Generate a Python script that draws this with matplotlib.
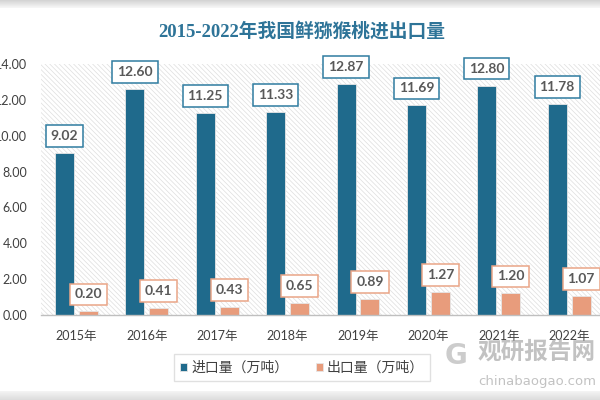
import matplotlib.pyplot as plt
import numpy as np
from matplotlib.patches import Rectangle

# data
years = ["2015年", "2016年", "2017年", "2018年", "2019年", "2020年", "2021年", "2022年"]
import_vals = [9.02, 12.60, 11.25, 11.33, 12.87, 11.69, 12.80, 11.78]
export_vals = [0.20, 0.41, 0.43, 0.65, 0.89, 1.27, 1.20, 1.07]

blue = "#1f6a8c"
orange = "#e89c7c"
num_font = ["Lato", "Noto Sans CJK SC"]
cjk_font = ["Noto Sans CJK SC", "DejaVu Sans"]

fig = plt.figure(figsize=(6, 4), dpi=100)
fig.patch.set_facecolor("white")

# grey bands at top and bottom of the picture
for i in range(8):
    fig.patches.append(Rectangle((0, 1 - (i + 1) / 400), 1, 1 / 400, transform=fig.transFigure,
                                 fc="#d0d0d0", ec="none", alpha=0.9 - i * 0.1))
for i in range(9):
    fig.patches.append(Rectangle((0, i / 400), 1, 1 / 400, transform=fig.transFigure,
                                 fc="#d8d8d8", ec="none", alpha=0.3 + (8 - i) * 0.07))

ax = fig.add_axes([41.3 / 600, 85 / 400, 563 / 600, 251 / 400])
ax.set_facecolor("white")
plt.rcParams["hatch.linewidth"] = 0.5
ax.add_patch(Rectangle((0, 0), 1, 1, transform=ax.transAxes, fc="white", ec="#dedede",
                       lw=0, hatch="\\" * 7, zorder=0))

x = np.arange(len(years))
off = 0.17
w = 0.27
b1 = ax.bar(x - off, import_vals, width=w, color=blue, edgecolor="#e6e6e6", linewidth=0.6,
            zorder=2, label="进口量（万吨）")
b2 = ax.bar(x + off, export_vals, width=w, color=orange, edgecolor="#e6e6e6", linewidth=0.6,
            zorder=2, label="出口量（万吨）")

for xi, v in zip(x, import_vals):
    ax.annotate(f"{v:.2f}", (xi - off, v), xytext=(0, 17), textcoords="offset pixels",
                ha="center", va="center", fontsize=10, fontweight="bold", color="#595959",
                family=num_font, zorder=5,
                bbox=dict(boxstyle="square,pad=0.35", fc="white", ec="#2f7ca0", lw=1.1))
for xi, v in zip(x, export_vals):
    ax.annotate(f"{v:.2f}", (xi + off, v), xytext=(0, 17), textcoords="offset pixels",
                ha="center", va="center", fontsize=10, fontweight="bold", color="#595959",
                family=num_font, zorder=5,
                bbox=dict(boxstyle="square,pad=0.35", fc="white", ec="#eaa587", lw=1.1))

ax.set_xlim(-0.5, len(years) - 0.5)
ax.set_ylim(0, 14)
ax.set_yticks(np.arange(0, 15, 2))
ax.set_yticklabels([f"{t:.2f}" for t in np.arange(0, 15, 2)], family=num_font, fontsize=9,
                   color="#404040")
ax.set_xticks(x)
ax.set_xticklabels(years, family=num_font, fontsize=9, color="#404040")
ax.tick_params(axis="y", length=0, pad=10)
ax.tick_params(axis="x", length=0, pad=11)
for s in ["top", "right", "left"]:
    ax.spines[s].set_visible(False)
ax.spines["bottom"].set_color("#bfbfbf")
ax.spines["bottom"].set_linewidth(1)

fig.text(0.503, 1 - 31 / 400, "2015-2022年我国鲜猕猴桃进出口量", ha="center", va="center",
         fontsize=13.5, fontweight="bold", color="#2e7498",
         family=["Liberation Serif", "Noto Sans CJK SC"])

leg = fig.legend(handles=[b1, b2], loc="center", bbox_to_anchor=(302 / 600, 1 - 367.5 / 400),
                 ncol=2, frameon=True, fancybox=False, prop={"family": cjk_font, "size": 10},
                 handlelength=0.5, handleheight=0.5, handletextpad=0.3, columnspacing=2.0,
                 borderpad=0.45)
leg.get_frame().set_edgecolor("#d9d9d9")
leg.get_frame().set_linewidth(1)
for t in leg.get_texts():
    t.set_color("#404040")

# watermark
fig.text(478 / 600, 1 - 352 / 400, "观研报告网", ha="left", va="center", fontsize=17,
         fontweight="bold", color="#9a9a9a", alpha=0.6, family=cjk_font)
fig.text(478 / 600, 1 - 381 / 400, "chinabaogao.com", ha="left", va="center", fontsize=9.5,
         color="#9a9a9a", alpha=0.6, family=["DejaVu Sans"])
fig.text(456 / 600, 1 - 356 / 400, "G", ha="center", va="center", fontsize=20,
         fontweight="bold", color="#9a9a9a", alpha=0.5, family=["DejaVu Sans"])

fig.savefig("out.png", dpi=100)
